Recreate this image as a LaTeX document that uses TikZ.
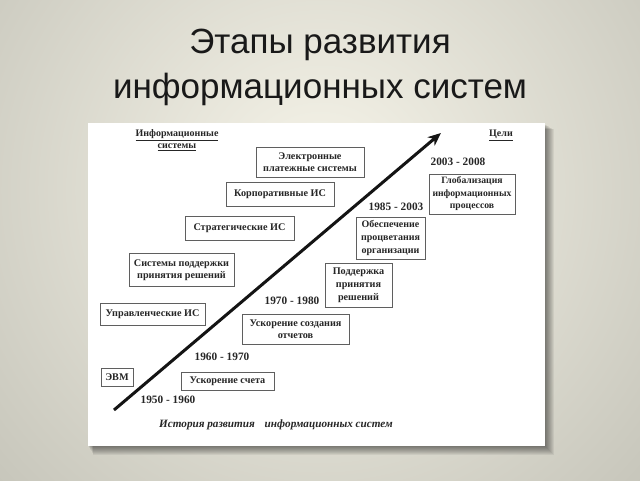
\documentclass[tikz,border=0pt]{standalone}
\usepackage{fontspec}
\setmainfont{Liberation Serif}
\newfontfamily\titlefont{Liberation Sans}
\usetikzlibrary{arrows.meta}
\definecolor{bgin}{RGB}{247,245,234}
\definecolor{bgout}{RGB}{152,152,141}
\definecolor{ink}{RGB}{38,38,38}
\definecolor{edge}{RGB}{95,95,95}
\begin{document}
\begin{tikzpicture}[x=1pt,y=-1pt,
  box/.style={draw=edge, line width=0.8pt, fill=white, align=center, inner sep=0pt,
    font=\fontsize{10.2}{11.8}\selectfont\bfseries, text=ink},
  lbl/.style={align=center, inner sep=0pt, font=\fontsize{11.3}{13}\selectfont\bfseries, text=ink},
  ttl/.style={anchor=base, inner sep=0pt, font=\titlefont\fontsize{35}{40}\selectfont, text=black!90}]
\useasboundingbox (0,0) rectangle (640,480);
\begin{scope}
\clip (0,0) rectangle (640,480);
\shade[inner color=bgin, outer color=bgout] (320,190) circle (860);
\end{scope}
% title
\node[ttl] (t1) at (320,53) {Этапы развития};
\node[ttl] (t2) at (320,98) {информационных систем};
% panel shadow
\foreach \i in {1,...,9}
  \fill[black, opacity=0.06] (88+\i*0.6,124+\i*0.6) rectangle (545+\i,446+\i);
\fill[white] (88,123) rectangle (545,446);
% header labels
\node[lbl, font=\fontsize{10}{12}\selectfont\bfseries] (infs) at (177,140) {\underline{Информационные}\\\underline{системы}};
\node[lbl, font=\fontsize{10}{12}\selectfont\bfseries] (goals) at (501,135) {\underline{Цели}};
% arrow
\coordinate (a0) at (114,410);
\coordinate (a1) at (441,133);
\draw[line width=3pt, black!92, -{Stealth[length=13pt,width=11pt,inset=4pt]}] (a0) -- (a1);
% system boxes
\node[box, minimum width=108, minimum height=30] (eps) at (310,162) {Электронные\\платежные системы};
\node[box, minimum width=108, minimum height=24] (kis) at (280,194) {Корпоративные ИС};
\node[box, minimum width=109, minimum height=24] (sis) at (239.5,228) {Стратегические ИС};
\node[box, minimum width=105, minimum height=33] (spr) at (181.5,270) {Системы поддержки\\принятия решений};
\node[box, minimum width=105, minimum height=22] (uis) at (152.5,314) {Управленческие ИС};
\node[box, minimum width=32, minimum height=18] (evm) at (117,377) {ЭВМ};
% goal boxes
\node[box, minimum width=93, minimum height=18] (us) at (227.5,381) {Ускорение счета};
\node[box, minimum width=107, minimum height=30] (uso) at (295.5,329) {Ускорение создания\\отчетов};
\node[box, minimum width=67, minimum height=44, font=\fontsize{10.2}{13}\selectfont\bfseries] (ppr) at (358.5,285) {Поддержка\\принятия\\решений};
\node[box, minimum width=69, minimum height=42, font=\fontsize{10}{13}\selectfont\bfseries] (opo) at (390.5,238) {Обеспечение\\процветания\\организации};
\node[box, minimum width=86, minimum height=40, font=\fontsize{9.7}{12.5}\selectfont\bfseries] (gip) at (472,194) {Глобализация\\информационных\\процессов};
% periods
\node[lbl] (p1) at (168,400) {1950 - 1960};
\node[lbl] (p2) at (222,357) {1960 - 1970};
\node[lbl] (p3) at (292,301) {1970 - 1980};
\node[lbl] (p4) at (396,207) {1985 - 2003};
\node[lbl] (p5) at (458,162) {2003 - 2008};
% caption
\node[lbl, font=\fontsize{11.2}{13}\selectfont\bfseries\itshape] (cap) at (276,425) {История развития\hspace{7pt} информационных систем};
\end{tikzpicture}
\end{document}
